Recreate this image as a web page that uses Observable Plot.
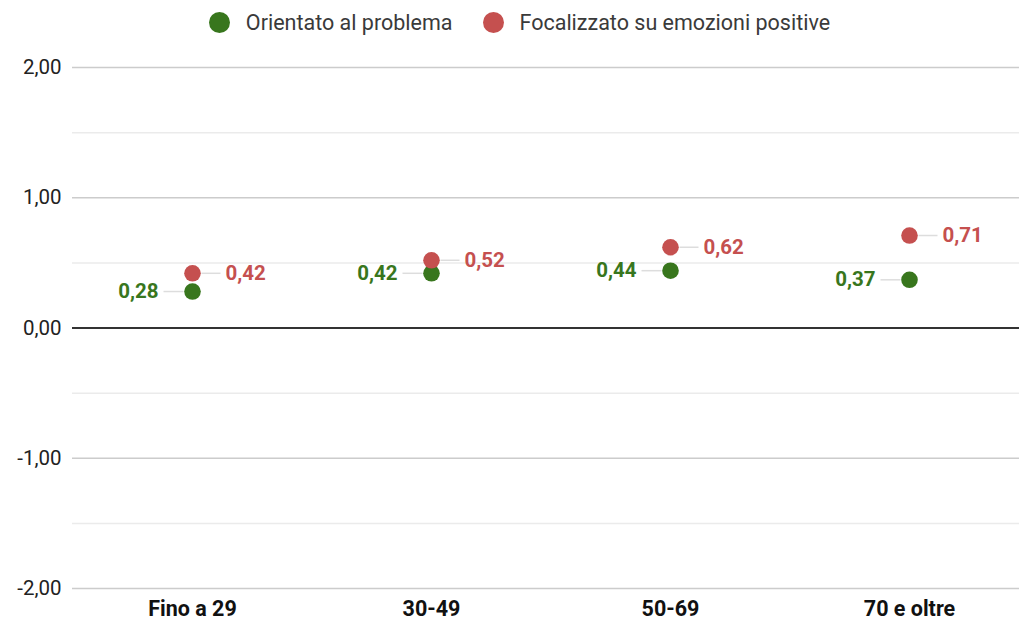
<!DOCTYPE html>
<html><head><meta charset="utf-8">
<script src="https://cdn.jsdelivr.net/npm/d3@7"></script>
<script src="https://cdn.jsdelivr.net/npm/@observablehq/plot@0.6"></script>
<style>
body{margin:0;background:#fff;font-family:Roboto,"Liberation Sans",Arial,sans-serif;}
#legend{height:45px;display:flex;align-items:center;justify-content:center;padding-left:20px;box-sizing:border-box;font-size:21.5px;color:#3a3a3a;gap:30px;}
.item{display:flex;align-items:center;}
.sw{width:21px;height:21px;border-radius:50%;margin-right:16px;}
</style></head><body>
<div id="legend"></div>
<div id="chart"></div>
<script>
const categories = ["Fino a 29", "30-49", "50-69", "70 e oltre"];
const seriesNames = ["Orientato al problema", "Focalizzato su emozioni positive"];
const orientato = [0.28, 0.42, 0.44, 0.37];
const focalizzato = [0.42, 0.52, 0.62, 0.71];
const colors = ["#38761d", "#c5504f"];
const majorTicks = [-2, -1, 0, 1, 2];
const minorTicks = [-1.5, -0.5, 0.5, 1.5];

const fmt = v => v.toFixed(2).replace(".", ",");

const data = [];
categories.forEach((c, i) => {
  data.push({cat: c, series: seriesNames[0], value: orientato[i]});
  data.push({cat: c, series: seriesNames[1], value: focalizzato[i]});
});
const dataA = data.filter(d => d.series === seriesNames[0]);
const dataB = data.filter(d => d.series === seriesNames[1]);

const leftLeader = {draw(ctx) { ctx.moveTo(-29, 0); ctx.lineTo(-9, 0); }};
const rightLeader = {draw(ctx) { ctx.moveTo(9, 0); ctx.lineTo(28, 0); }};

const legend = document.getElementById("legend");
seriesNames.forEach((s, i) => {
  const it = document.createElement("div"); it.className = "item";
  const sw = document.createElement("span"); sw.className = "sw"; sw.style.background = colors[i];
  const t = document.createElement("span"); t.textContent = s;
  it.appendChild(sw); it.appendChild(t); legend.appendChild(it);
});

const chart = Plot.plot({
  width: 1019,
  height: 575,
  marginTop: 22,
  marginBottom: 32,
  marginLeft: 72,
  marginRight: 0,
  style: {fontFamily: 'Roboto, "Liberation Sans", Arial, sans-serif', background: "#fff"},
  x: {type: "point", domain: categories, range: [192, 909], padding: 0, label: null},
  y: {domain: [-2, 2], label: null},
  color: {domain: seriesNames, range: colors},
  marks: [
    Plot.ruleY(minorTicks, {stroke: "#ebebeb", strokeWidth: 1.5}),
    Plot.ruleY(majorTicks.filter(d => d !== 0), {stroke: "#cccccc", strokeWidth: 1.5}),
    Plot.ruleY([0], {stroke: "#333", strokeWidth: 2}),
    Plot.axisY({ticks: majorTicks, tickFormat: fmt, tickSize: 0, tickPadding: 11, fontSize: 20.5, color: "#222", label: null}),
    Plot.axisX({tickSize: 0, tickPadding: 12, fontSize: 21.5, fontWeight: "bold", color: "#111", label: null}),
    Plot.dot(dataA, {x: "cat", y: "value", symbol: leftLeader, stroke: "#dddddd", strokeWidth: 1.5, fill: "none"}),
    Plot.dot(dataB, {x: "cat", y: "value", symbol: rightLeader, stroke: "#dddddd", strokeWidth: 1.5, fill: "none"}),
    Plot.dot(data, {x: "cat", y: "value", r: 8.3, fill: "series"}),
    Plot.text(dataA, {x: "cat", y: "value", text: d => fmt(d.value), dx: -34, textAnchor: "end", fill: colors[0], fontSize: 20.5, fontWeight: "bold"}),
    Plot.text(dataB, {x: "cat", y: "value", text: d => fmt(d.value), dx: 33, textAnchor: "start", fill: colors[1], fontSize: 20.5, fontWeight: "bold"})
  ]
});
document.getElementById("chart").appendChild(chart);
</script>
</body></html>
